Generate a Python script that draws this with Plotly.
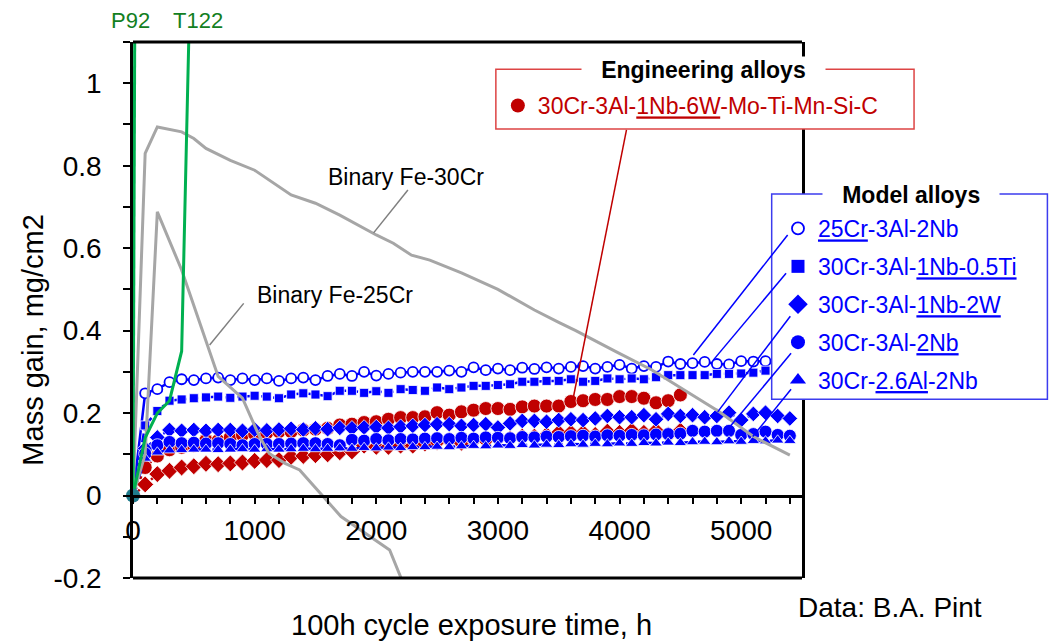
import plotly.graph_objects as go

# ---------------- data ----------------
H52 = [0, 100, 200, 300, 400, 500, 600, 700, 800, 900, 1000, 1100, 1200, 1300, 1400, 1500, 1600, 1700,
       1800, 1900, 2000, 2100, 2200, 2300, 2400, 2500, 2600, 2700, 2800, 2900, 3000, 3100, 3200, 3300,
       3400, 3500, 3600, 3700, 3800, 3900, 4000, 4100, 4200, 4300, 4400, 4500, 4600, 4700, 4800, 4900,
       5000, 5100, 5200]
H54 = H52 + [5300, 5400]
H45 = H52[:46]

cr25_3al_2nb = [0, .248, .258, .275, .282, .280, .284, .286, .280, .284, .280, .284, .278, .284, .286, .280,
                .290, .295, .290, .300, .291, .295, .298, .300, .300, .300, .303, .300, .311, .304, .308,
                .304, .310, .307, .311, .308, .312, .314, .308, .312, .317, .308, .314, .312, .325, .319,
                .321, .324, .319, .318, .326, .325, .326]
cr30_1nb_05ti = [0, .170, .205, .230, .233, .236, .238, .240, .237, .240, .242, .240, .236, .245, .248, .245,
                 .241, .254, .254, .249, .253, .249, .258, .256, .254, .262, .258, .262, .266, .266, .268,
                 .270, .276, .276, .278, .278, .282, .276, .278, .284, .282, .284, .282, .287, .292, .292,
                 .292, .292, .295, .295, .296, .298, .303]
cr30_1nb_2w = [0, .114, .141, .159, .157, .159, .157, .159, .159, .157, .160, .158, .160, .162, .160, .163,
               .161, .164, .163, .165, .166, .164, .167, .169, .171, .173, .173, .169, .171, .173, .165,
               .175, .181, .181, .179, .183, .185, .183, .187, .193, .190, .190, .195, .185, .198, .193,
               .195, .190, .193, .201, .183, .198, .201, .193, .187]
cr30_3al_2nb = [0, .102, .122, .130, .127, .128, .126, .127, .125, .122, .125, .125, .125, .126, .127, .127,
                .125, .122, .135, .133, .137, .134, .137, .136, .138, .139, .137, .140, .138, .141, .140,
                .139, .142, .141, .143, .142, .144, .145, .143, .146, .145, .147, .146, .148, .149, .150,
                .157, .155, .157, .157, .147, .149, .155, .147, .145]
cr30_26al_2nb = [0, .090, .105, .110, .111, .112, .112, .111, .112, .113, .112, .113, .112, .113, .114, .113,
                 .114, .115, .114, .116, .115, .117, .116, .118, .118, .119, .118, .120, .121, .120, .122,
                 .121, .123, .122, .124, .123, .125, .124, .126, .125, .127, .126, .128, .127, .129, .128,
                 .130, .131, .130, .132, .131, .133, .132, .134, .133]
eng_circles = [0, .068, .096, .111, .117, .121, .134, .133, .141, .147, .149, .152, .155, .155, .159, .161,
               .163, .171, .173, .177, .179, .185, .189, .189, .191, .201, .195, .203, .207, .211, .211,
               .209, .215, .217, .217, .217, .228, .230, .233, .233, .240, .240, .236, .225, .230, .244]
eng_diamonds = [0, .027, .052, .060, .068, .071, .077, .076, .078, .080, .084, .086, .086, .094, .096, .098,
                .100, .105, .107, .121, .118, .118, .121, .121, .126, .130, .134, .128, .134, .134, .138,
                .138, .143, .143, .147, .152, .152, .152, .147, .155, .152, .157, .152, .157, .147, .157]

fe30cr_h = [0, 100, 200, 400, 500, 600, 800, 1000, 1300, 1500, 1700, 2000, 2140, 2290, 2440, 2700, 3000,
            3300, 3500, 3640, 3970, 4270, 4820, 5100, 5400]
fe30cr_y = [0, .83, .894, .882, .866, .842, .813, .789, .729, .709, .680, .632, .612, .583, .571, .54, .50,
            .45, .42, .40, .349, .304, .203, .143, .098]
fe25cr_h = [0, 100, 200, 400, 550, 700, 900, 1040, 1120, 1250, 1370, 1710, 2110, 2300]
fe25cr_y = [0, .10, .688, .547, .418, .289, .236, .143, .102, .078, .062, -.051, -.132, -.27]
p92_h = [0, 100]
p92_y = [0, 7.9]
t122_h = [0, 100, 200, 300, 400, 500]
t122_y = [0, .14, .20, .23, .35, 1.64]

X_TICKS = [0, 1000, 2000, 3000, 4000, 5000]
X_TICK_TEXT = ["0", "1000", "2000", "3000", "4000", "5000"]
Y_TICKS = [-0.2, 0, 0.2, 0.4, 0.6, 0.8, 1.0]
Y_TICK_TEXT = ["-0.2", "0", "0.2", "0.4", "0.6", "0.8", "1"]

# ---------------- styling ----------------
FONT = "Liberation Sans, Arial, sans-serif"
BLUE = "#0000ff"
RED = "#c00000"
GRAY = "#a6a6a6"
GREEN = "#00b050"
TEAL = "#1f7c8c"


def U(s):
    return f'<span style="text-decoration:underline">{s}</span>'


eng_name = "30Cr-3Al-" + U("1Nb-6W") + "-Mo-Ti-Mn-Si-C"
model_names = [U("25Cr") + "-3Al-2Nb", "30Cr-3Al-" + U("1Nb-0.5Ti"), "30Cr-3Al-" + U("1Nb-2W"),
               "30Cr-3Al-" + U("2Nb"), "30Cr-" + U("2.6Al") + "-2Nb"]

fig = go.Figure()

model_series = [
    (H52, cr25_3al_2nb, "circle", 10, "white", BLUE, 1.8, "solid"),
    (H52, cr30_1nb_05ti, "square", 9, BLUE, "white", 0.8, "dashdot"),
    (H54, cr30_1nb_2w, "diamond", 12, BLUE, "white", 0.8, "dot"),
    (H54, cr30_3al_2nb, "circle", 13, BLUE, "white", 0.8, "dot"),
    (H54, cr30_26al_2nb, "triangle-up", 11, BLUE, "white", 0.8, "dash"),
]
eng_series = [
    (H45, eng_circles, "circle", 14, RED, "white", 0.8, "dot"),
    (H45, eng_diamonds, "diamond", 13, RED, "white", 0.8, "dot"),
]
for xs, ys, sym, sz, fill, edge, ew, dash in eng_series + model_series:
    lc = RED if fill == RED else BLUE
    fig.add_trace(go.Scatter(x=xs, y=ys, mode="lines+markers", showlegend=False,
                             line=dict(color=lc, width=2.5, dash=dash),
                             marker=dict(symbol=sym, size=sz, color=fill, line=dict(color=edge, width=ew))))

fig.add_trace(go.Scatter(x=fe30cr_h, y=fe30cr_y, mode="lines", showlegend=False,
                         line=dict(color=GRAY, width=3)))
fig.add_trace(go.Scatter(x=fe25cr_h, y=fe25cr_y, mode="lines", showlegend=False,
                         line=dict(color=GRAY, width=3)))
fig.add_trace(go.Scatter(x=p92_h, y=p92_y, mode="lines", showlegend=False, line=dict(color=GREEN, width=3)))
fig.add_trace(go.Scatter(x=t122_h, y=t122_y, mode="lines", showlegend=False, line=dict(color=GREEN, width=3)))
fig.add_trace(go.Scatter(x=[0], y=[0], mode="markers", showlegend=False, cliponaxis=False,
                         marker=dict(size=14, color=TEAL)))

# legend-only entries
fig.add_trace(go.Scatter(x=[None], y=[None], mode="markers", name=eng_name, legend="legend",
                         marker=dict(symbol="circle", size=14, color=RED)))
leg_syms = [("circle", 12, "white", BLUE, 1.8), ("square", 13, BLUE, BLUE, 0),
            ("diamond", 15, BLUE, BLUE, 0), ("circle", 14, BLUE, BLUE, 0), ("triangle-up", 14, BLUE, BLUE, 0)]
for i, (nm, (sym, sz, fill, edge, ew)) in enumerate(zip(model_names, leg_syms)):
    fig.add_trace(go.Scatter(x=[None], y=[None], mode="markers", name=nm, legend="legend2",
                             legendgroup=f"g{i}",
                             marker=dict(symbol=sym, size=sz, color=fill, line=dict(color=edge, width=ew))))


def px2paper_x(px):
    return (px - 133.3) / 668.7


def px2paper_y(py):
    return (578 - py) / 536


shapes = [
    # frame
    dict(type="line", xref="paper", yref="paper", x0=0, x1=1, y0=1, y1=1, line=dict(color="black", width=3)),
    dict(type="line", xref="paper", yref="paper", x0=0, x1=1, y0=0, y1=0, line=dict(color="black", width=3)),
    # legend boxes
    dict(type="rect", xref="paper", yref="paper", x0=px2paper_x(496), x1=px2paper_x(914),
         y0=px2paper_y(129), y1=px2paper_y(69.3), line=dict(color="#dd4444", width=1.5), fillcolor="white",
         layer="above"),
    dict(type="rect", xref="paper", yref="paper", x0=px2paper_x(771.7), x1=px2paper_x(1047.3),
         y0=px2paper_y(399.3), y1=px2paper_y(194), line=dict(color="#3c3cee", width=1.5), fillcolor="white",
         layer="above"),
    # leader lines
    dict(type="line", x0=2260, y0=0.741, x1=1978, y1=0.637, line=dict(color="#7f7f7f", width=1.5)),
    dict(type="line", x0=910, y0=0.466, x1=630, y1=0.365, line=dict(color="#7f7f7f", width=1.5)),
    dict(type="line", x0=4057, y0=0.887, x1=3621, y1=0.239, line=dict(color=RED, width=1.5), layer="above"),
    dict(type="line", x0=5382, y0=0.632, x1=4607, y1=0.341, line=dict(color=BLUE, width=1.5), layer="above"),
    dict(type="line", x0=5369, y0=0.539, x1=4772, y1=0.329, line=dict(color=BLUE, width=1.5), layer="above"),
    dict(type="line", x0=5404, y0=0.435, x1=4807, y1=0.203, line=dict(color=BLUE, width=1.5), layer="above"),
    dict(type="line", x0=5410, y0=0.345, x1=4897, y1=0.163, line=dict(color=BLUE, width=1.5), layer="above"),
    dict(type="line", x0=5410, y0=0.258, x1=5095, y1=0.143, line=dict(color=BLUE, width=1.5), layer="above"),
]


def ann(text, x, y, size, color="black", **kw):
    d = dict(text=text, xref="paper", yref="paper", x=px2paper_x(x), y=px2paper_y(y), showarrow=False,
             xanchor="center", yanchor="middle", font=dict(size=size, color=color))
    d.update(kw)
    return d


annotations = [
    dict(text="Binary Fe-30Cr", x=1590, y=0.773, xanchor="left", yanchor="middle", showarrow=False,
         font=dict(size=23, color="black")),
    dict(text="Binary Fe-25Cr", x=1001, y=0.486, xanchor="left", yanchor="middle", showarrow=False,
         font=dict(size=23, color="black")),
    ann("P92", 131, 20.7, 22, "#13801f"),
    ann("T122", 198.7, 20.7, 22, "#13801f"),
    ann("Data: B.A. Pint", 890, 607, 28),
    ann("100h cycle exposure time, h", 472, 625, 29),
    ann("Mass gain, mg/cm2", 33, 340, 29, textangle=-90),
    ann("&nbsp;&nbsp;&nbsp;<b>Engineering alloys</b>&nbsp;&nbsp;&nbsp;", 704, 70.5, 23,
        bgcolor="white", borderpad=0),
    ann("&nbsp;&nbsp;&nbsp;<b>Model alloys</b>&nbsp;&nbsp;&nbsp;", 910.5, 195, 23,
        bgcolor="white", borderpad=0),
]

fig.update_layout(
    width=1051, height=642, autosize=False,
    margin=dict(l=133, r=249, t=42, b=64, autoexpand=False),
    paper_bgcolor="white", plot_bgcolor="white",
    font=dict(family=FONT, color="black"),
    shapes=shapes, annotations=annotations,
    xaxis=dict(range=[0, 5500], tickmode="array", tickvals=X_TICKS, ticktext=X_TICK_TEXT,
               ticks="outside", ticklen=7, tickwidth=1.5, tickcolor="black",
               showline=True, linecolor="black", linewidth=2.5, showgrid=False, zeroline=False,
               anchor="free", position=0.2 / 1.3, tickfont=dict(size=28, color="black"),
               ticklabelstandoff=2,
               minor=dict(tick0=0, dtick=200, ticks="outside", ticklen=7, tickwidth=1.5, tickcolor="black",
                          showgrid=False)),
    yaxis=dict(range=[-0.2, 1.1], tickmode="array", tickvals=Y_TICKS, ticktext=Y_TICK_TEXT,
               ticks="outside", ticklen=7, tickwidth=1.5, tickcolor="black",
               showline=True, linecolor="black", linewidth=2.5, mirror=True, showgrid=False, zeroline=False,
               tickfont=dict(size=28, color="black"), ticklabelstandoff=16,
               minor=dict(tick0=0, dtick=0.1, ticks="outside", ticklen=7, tickwidth=1.5, tickcolor="black",
                          showgrid=False)),
    legend=dict(x=px2paper_x(498), y=px2paper_y(84), xanchor="left", yanchor="top",
                bgcolor="rgba(0,0,0,0)", borderwidth=0, font=dict(size=23, color=RED)),
    legend2=dict(x=px2paper_x(778), y=px2paper_y(207), xanchor="left", yanchor="top",
                 bgcolor="rgba(0,0,0,0)", borderwidth=0, font=dict(size=23, color=BLUE),
                 traceorder="grouped", tracegroupgap=5),
)

fig.write_html("out.html")
